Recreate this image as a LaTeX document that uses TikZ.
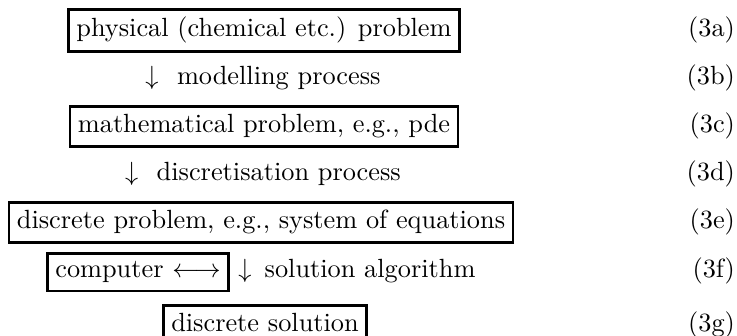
\documentclass[tikz,border=0pt]{standalone}
\usepackage{tikz}
\usetikzlibrary{positioning}

\begin{document}
\begin{tikzpicture}[x=0.38pt, y=-0.38pt,
	probbox/.style={draw, line width=1.1pt, inner sep=3pt, anchor=base},
	steptext/.style={inner sep=0pt, anchor=base},
	eqlabel/.style={anchor=base east, inner sep=0pt}]
	\useasboundingbox (0,0) rectangle (737,336);
	\node[probbox] (phys) at (264,37) {physical (chemical etc.) problem};
	\node[steptext] (model) at (263,85) {$\downarrow$\hspace{7pt}modelling process};
	\node[probbox] (math) at (264,133) {mathematical problem, e.g., pde};
	\node[steptext] (discr) at (263,181) {$\downarrow$\hspace{7pt}discretisation process};
	\node[probbox] (dprob) at (261,229) {discrete problem, e.g., system of equations};
	\node[probbox, anchor=base west] (comp) at (46,278) {computer $\longleftrightarrow$};
	\node[inner sep=0pt, anchor=base west] (alg) at ([xshift=3pt]comp.base east) {$\downarrow$\hspace{5pt}solution algorithm};
	\node[probbox] (dsol) at (265,332) {discrete solution};
	\foreach \lbl/\yy in {a/37,b/85,c/133,d/181,e/229,f/278,g/332}
		\node[eqlabel] (eq\lbl) at (735.5,\yy) {(3\lbl)};
\end{tikzpicture}
\end{document}
